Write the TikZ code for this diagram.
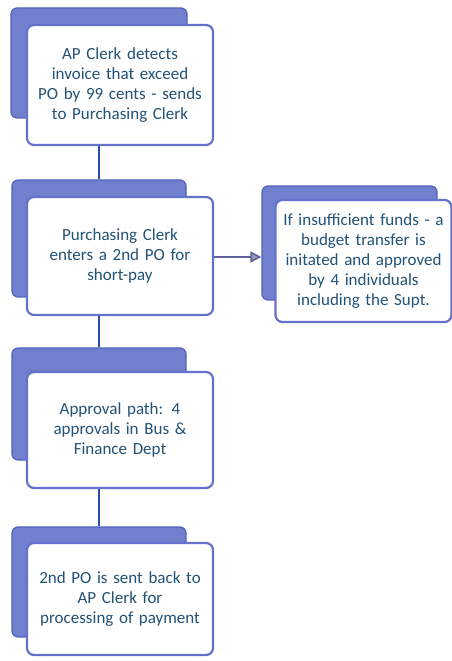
\documentclass[tikz,border=0pt]{standalone}
\usepackage{fontspec}
\setmainfont{Carlito}
\usetikzlibrary{arrows.meta}
\definecolor{backfill}{RGB}{112,128,206}
\definecolor{backedge}{RGB}{82,98,188}
\definecolor{frontedge}{RGB}{100,114,204}
\definecolor{txt}{RGB}{34,82,118}
\definecolor{linkcol}{RGB}{40,80,170}
\definecolor{tipfill}{RGB}{150,160,190}
\tikzset{
  backbox/.style={draw=backedge, fill=backfill, line width=1.2pt, rounded corners=6pt,
    inner sep=0pt},
  frontbox/.style={draw=frontedge, fill=white, line width=2.2pt, rounded corners=7pt,
    inner sep=3pt, align=center, text=txt,
    font=\fontsize{17}{20}\selectfont},
  link/.style={draw=linkcol, line width=2.8pt},
  sidelink/.style={draw=gray!75!blue, line width=1.6pt,
    -{Triangle[length=11pt,width=11pt,fill=tipfill]}}
}
\begin{document}
\begin{tikzpicture}[x=1pt,y=1pt]
\useasboundingbox (0,0) rectangle (451,661);
% layered backing cards
\node[backbox, minimum width=176pt, minimum height=110pt] (k1) at (99,598) {};
\node[backbox, minimum width=174pt, minimum height=117pt] (k2) at (99,422.5) {};
\node[backbox, minimum width=175pt, minimum height=114pt] (kr) at (349.5,418) {};
\node[backbox, minimum width=174pt, minimum height=112pt] (k3) at (99,257) {};
\node[backbox, minimum width=174pt, minimum height=110pt] (k4) at (99,79) {};
% front cards with the step texts
\node[frontbox, minimum width=186pt, minimum height=120pt, text width=178pt] (s1) at (120,576)
  {AP Clerk detects\\invoice that exceed\\PO by 99 cents - sends\\to Purchasing Clerk};
\node[frontbox, minimum width=186pt, minimum height=118pt, text width=178pt] (s2) at (120,405)
  {Purchasing Clerk\\enters a 2nd PO for\\short-pay};
\node[frontbox, minimum width=173pt, minimum height=122pt, text width=170pt] (sr) at (363.5,400)
  {If insufficient funds - a\\budget transfer is\\initated and approved\\by 4 individuals\\including the Supt.};
\node[frontbox, minimum width=186pt, minimum height=116pt, text width=178pt] (s3) at (120,231)
  {Approval path: 4\\approvals in Bus \&\\Finance Dept};
\node[frontbox, minimum width=186pt, minimum height=112pt, text width=178pt] (s4) at (120,62)
  {2nd PO is sent back to\\AP Clerk for\\processing of payment};
% connectors
\draw[link] (k1.center |- s1.south) -- (k2.north);
\draw[link] (k2.center |- s2.south) -- (k3.north);
\draw[link] (k3.center |- s3.south) -- (k4.north);
\draw[sidelink] (s2.east |- 0,404) -- (kr.west |- 0,404);
\end{tikzpicture}
\end{document}
